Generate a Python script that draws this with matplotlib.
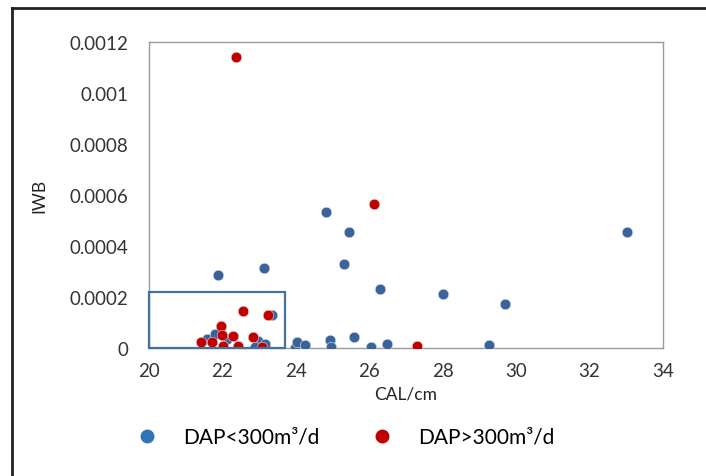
import matplotlib.pyplot as plt
from matplotlib.lines import Line2D
from matplotlib.patches import Rectangle
from matplotlib.ticker import FixedLocator, FuncFormatter

plt.rcParams['font.family'] = ['Lato', 'DejaVu Sans']

# DAP < 300 m3/d
cal_low = [21.57, 21.80, 22.12, 22.98, 23.16, 22.89, 23.34, 21.89, 23.13,
           23.98, 24.04, 24.26, 24.93, 24.96, 25.58, 26.04, 26.48, 29.25,
           24.82, 25.44, 25.30, 26.29, 28.01, 29.71, 33.01]
iwb_low = [0.000035, 0.000056, 0.000037, 0.000027, 0.000017, 0.000004, 0.00013,
           0.000288, 0.000315, 0.0, 0.000025, 0.000014, 0.000033, 0.000003,
           0.000043, 0.000003, 0.000018, 0.000014, 0.000533, 0.000455,
           0.00033, 0.000231, 0.000213, 0.000174, 0.000455]

# DAP > 300 m3/d
cal_high = [22.37, 26.12, 22.56, 23.23, 21.96, 22.00, 22.30, 22.84, 21.43,
            21.73, 22.02, 22.43, 23.07, 27.30]
iwb_high = [0.00114, 0.000563, 0.000145, 0.00013, 0.000086, 0.00005, 0.000047,
            0.000043, 0.000026, 0.000024, 0.00001, 0.000008, 0.000004, 0.000007]

x_ticks = [20, 22, 24, 26, 28, 30, 32, 34]
y_ticks = [0, 0.0002, 0.0004, 0.0006, 0.0008, 0.001, 0.0012]
labels = ['DAP<300m³/d', 'DAP>300m³/d']

fig = plt.figure(figsize=(7.06, 4.77), dpi=100)
ax = fig.add_axes([0.211, 0.268, 0.728, 0.642])

ax.scatter(cal_low, iwb_low, s=58, color='#39639A', edgecolors='#dde6f0',
           linewidths=0.4, zorder=3)
ax.scatter(cal_high, iwb_high, s=58, color='#C00000', edgecolors='#f2dada',
           linewidths=0.4, zorder=4)

# highlighted low region
ax.add_patch(Rectangle((20, 0), 3.7, 0.00022, fill=False, edgecolor='#41719C',
                       linewidth=1.6, zorder=5, clip_on=False))

ax.set_xlim(20, 34)
ax.set_ylim(0, 0.0012)
ax.xaxis.set_major_locator(FixedLocator(x_ticks))
ax.yaxis.set_major_locator(FixedLocator(y_ticks))
ax.yaxis.set_major_formatter(FuncFormatter(lambda v, p: '%g' % v))
ax.tick_params(length=0, labelsize=13.5, colors='#333333')
ax.tick_params(axis='y', pad=15)
ax.tick_params(axis='x', pad=10)
for s in ax.spines.values():
    s.set_color('#9a9a9a')
    s.set_linewidth(1.0)

ax.set_xlabel('CAL/cm', fontsize=12.5, labelpad=5, color='#222222')
ax.set_ylabel('IWB', fontsize=12.5, labelpad=16, color='#222222')

handles = [Line2D([], [], linestyle='none', marker='o', markersize=9,
                  color='#2E75B6'),
           Line2D([], [], linestyle='none', marker='o', markersize=9,
                  color='#C00000')]
fig.legend(handles, labels, ncol=2, frameon=False, fontsize=15,
           loc='center left', bbox_to_anchor=(0.1935, 0.082),
           borderaxespad=0, borderpad=0,
           handletextpad=1.23, columnspacing=2.5, handlelength=1.0)

# outer frame (cropped screenshot border)
fig.add_artist(Line2D([0.017, 0.017], [0.0, 0.981], color='#222222', lw=2))
fig.add_artist(Line2D([0.017, 1.0], [0.981, 0.981], color='#222222', lw=2))

fig.savefig('out.png', dpi=100)
